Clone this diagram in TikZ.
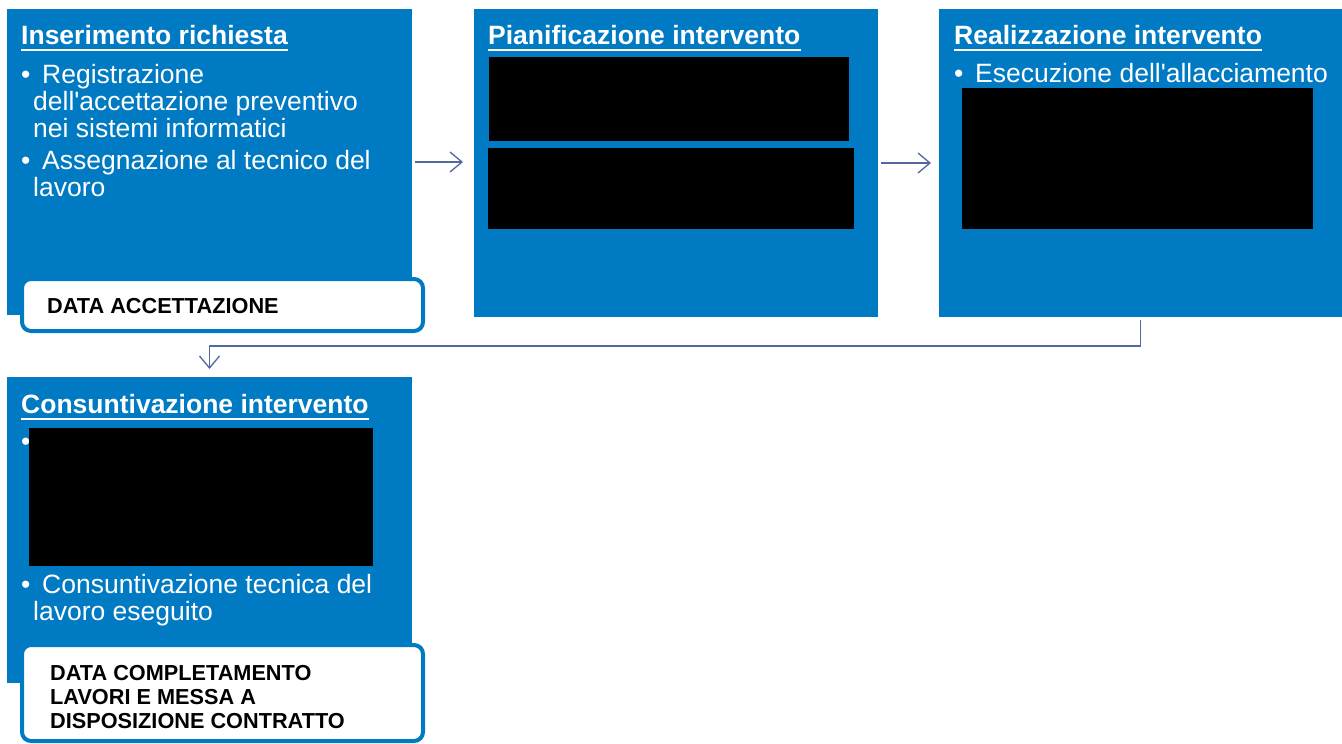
\documentclass[tikz,border=0pt]{standalone}
\usepackage{fontspec}
\setmainfont{Liberation Sans}
\usetikzlibrary{arrows.meta}
\definecolor{boxblue}{RGB}{0,122,194}
\definecolor{conncol}{RGB}{84,104,160}
\begin{document}
\begin{tikzpicture}[x=1pt,y=-1pt,
  bluebox/.style={fill=boxblue, draw=none, inner sep=0pt, outer sep=0pt, anchor=north west},
  redact/.style={fill=black, draw=none, inner sep=0pt, outer sep=0pt, anchor=north west},
  labelbox/.style={fill=white, draw=boxblue, line width=4pt, rounded corners=9pt, inner sep=0pt, outer sep=0pt, anchor=north west},
  titletext/.style={font=\fontsize{26.5}{28}\selectfont\bfseries, text=white, anchor=base west, inner sep=0pt},
  bodytext/.style={font=\fontsize{26.5}{27}\selectfont, text=white, anchor=base west, inner sep=0pt},
  labtext/.style={font=\fontsize{21.7}{24}\selectfont\bfseries, text=black, anchor=base west, inner sep=0pt},
  uline/.style={white, line width=2pt},
  conn/.style={draw=conncol, line width=1.3pt, -{Straight Barb[length=12pt,width=20pt]}}
]
\useasboundingbox (0,0) rectangle (1342,744);
\fill[white] (0,0) rectangle (1342,744);

% blue process boxes
\node[bluebox, minimum width=405pt, minimum height=306pt] (box1) at (7,9) {};
\node[bluebox, minimum width=404pt, minimum height=308pt] (box2) at (474,9) {};
\node[bluebox, minimum width=403pt, minimum height=308pt] (box3) at (939,9) {};
\node[bluebox, minimum width=405pt, minimum height=306pt] (box4) at (7,377) {};

% titles
\node[titletext] (t1) at (21,44) {Inserimento richiesta};
\node[titletext] (t2) at (488,44) {Pianificazione intervento};
\node[titletext] (t3) at (954,44) {Realizzazione intervento};
\node[titletext] (t4) at (21,413) {Consuntivazione intervento};
\foreach \t in {t1,t2,t3,t4}{
  \draw[uline] ([yshift=-5.5pt]\t.base west) -- ([yshift=-5.5pt]\t.base east);
}

% body texts
\node[bodytext] (p11) at (21,83) {\parbox[t]{390pt}{\makebox[21pt][l]{•}Registrazione\\\hspace*{12pt}dell\textquotesingle accettazione preventivo\\\hspace*{12pt}nei sistemi informatici}};
\node[bodytext] (p12) at (21,169.5) {\parbox[t]{390pt}{\makebox[21pt][l]{•}Assegnazione al tecnico del\\\hspace*{12pt}lavoro}};
\node[bodytext] (p31) at (954,82) {\makebox[21pt][l]{•}Esecuzione dell\textquotesingle allacciamento};
\node[bodytext] (p41) at (21,450) {•};
\node[bodytext] (p42) at (21,593) {\parbox[t]{390pt}{\makebox[21pt][l]{•}Consuntivazione tecnica del\\\hspace*{12pt}lavoro eseguito}};

% redacted areas
\node[redact, minimum width=360pt, minimum height=84pt] (r21) at (489,57) {};
\node[redact, minimum width=366pt, minimum height=81pt] (r22) at (488,148) {};
\node[redact, minimum width=351pt, minimum height=141pt] (r31) at (962,88) {};
\node[redact, minimum width=344pt, minimum height=138pt] (r41) at (29,428) {};

% date labels
\node[labelbox, minimum width=401pt, minimum height=52pt] (lab1) at (22,279) {};
\node[labtext] (lab1t) at (47,313) {DATA ACCETTAZIONE};
\node[labelbox, minimum width=401pt, minimum height=96pt] (lab2) at (22,645) {};
\node[labtext] (lab2t) at (50,680) {\parbox[t]{360pt}{\raggedright DATA COMPLETAMENTO\\LAVORI E MESSA A\\DISPOSIZIONE CONTRATTO}};

% connectors
\draw[conn, shorten <=3pt, shorten >=11pt] (box1.east) -- (box1.east -| box2.west);
\draw[conn, shorten <=3pt, shorten >=8pt] (box2.east) -- (box2.east -| box3.west);
\coordinate (bend) at (box3.south |- 0,346);
\draw[conn, shorten <=3pt, shorten >=8pt] (box3.south) -- (bend) -| (box4.north);
\end{tikzpicture}
\end{document}
